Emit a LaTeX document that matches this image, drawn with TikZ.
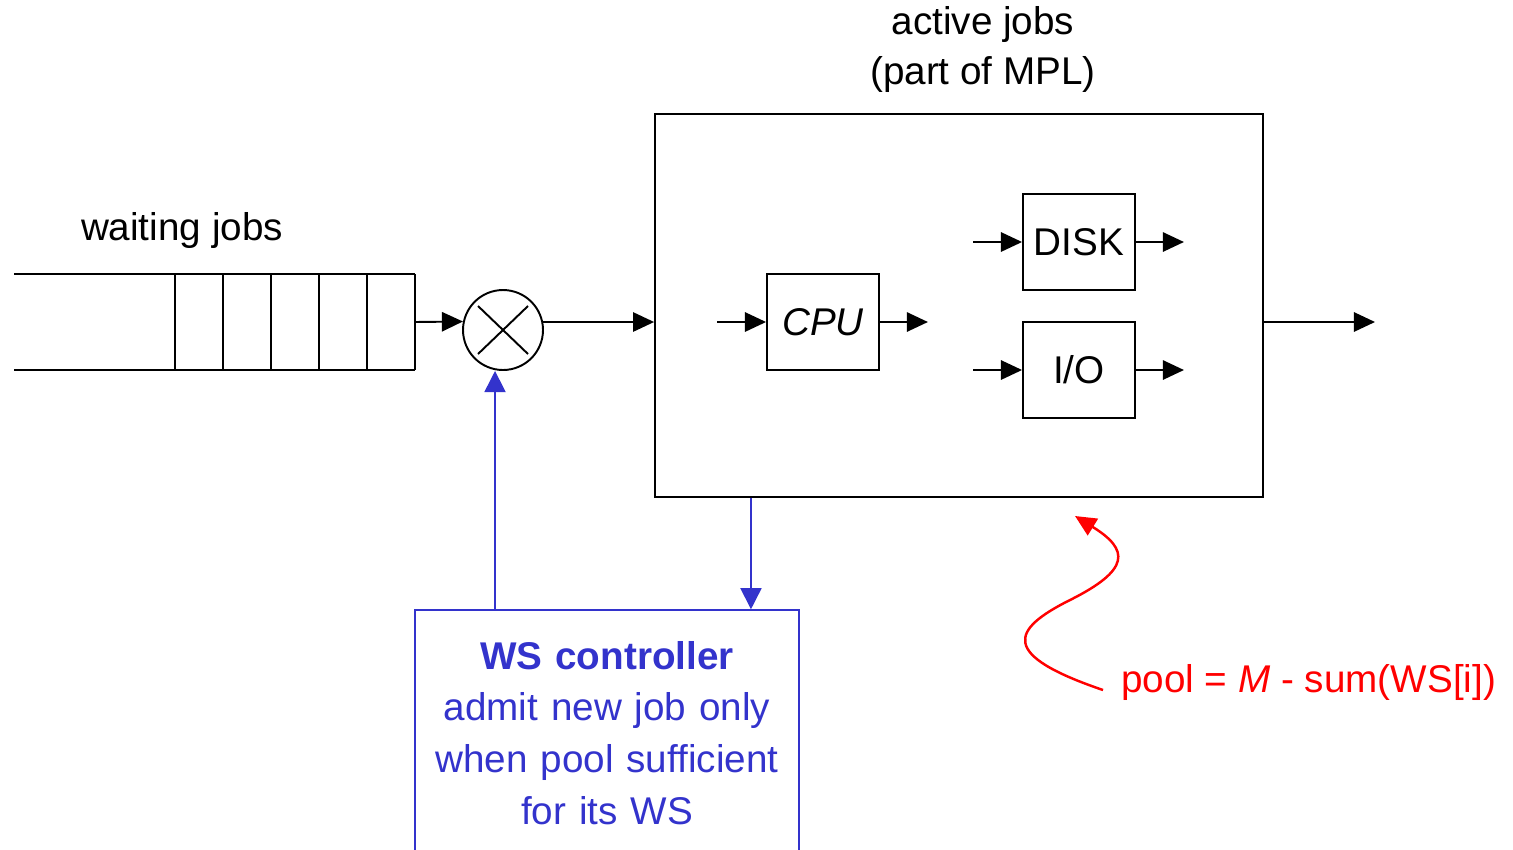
\documentclass[tikz,border=0pt]{standalone}
\usepackage{fontspec}
\setmainfont{Liberation Sans}
\usetikzlibrary{arrows.meta,positioning}
\definecolor{ctrlblue}{RGB}{51,51,204}

\tikzset{
  big/.style={font=\fontsize{22}{29.5}\selectfont},
  unit/.style={draw, line width=1.1pt, minimum width=2.24cm, minimum height=1.92cm, big},
  flow/.style={line width=1.1pt, -{Triangle[length=12pt,width=11pt]}},
  ctrlflow/.style={ctrlblue, line width=0.9pt, -{Triangle[length=12pt,width=12pt]}}
}

\begin{document}
\begin{tikzpicture}[x=0.02cm,y=-0.02cm]
\useasboundingbox (0,0) rectangle (1513,849);
\clip (0,0) rectangle (1513,849);

% queue of waiting jobs
\draw[line width=1.1pt] (14,274) -- (415,274);
\draw[line width=1.1pt] (14,370) -- (415,370);
\foreach \x in {175,223,...,415}
  \draw[line width=1.1pt] (\x,274) -- (\x,370);
\coordinate (qout) at (415,322);
\node[big] (waitlbl) at (182,230) {waiting jobs};

% admission switch
\node[draw, circle, line width=1.1pt, minimum size=1.6cm] (mux) at (503,330) {};
\draw[line width=1.1pt] ([shift={(-25,-24)}]mux.center) -- ([shift={(25,24)}]mux.center);
\draw[line width=1.1pt] ([shift={(-25,24)}]mux.center) -- ([shift={(25,-24)}]mux.center);

% active jobs
\node[draw, line width=1.1pt, minimum width=12.16cm, minimum height=7.66cm] (active) at (959,305.5) {};
\node[big] (actlbl) at (983,25) {active jobs};
\node[big] (mpllbl) at (983,75) {(part of MPL)};
\node[unit] (cpu) at (823,322) {\textit{CPU}};
\node[unit] (disk) at (1079,242) {DISK};
\node[unit] (io) at (1079,370) {I/O};
\coordinate (out) at (1375,322);

\draw[flow] (qout) -- (mux.168);
\draw[flow] (mux.12 |- cpu) -- (active.west |- cpu);
\draw[flow] ([xshift=-0.98cm]cpu.west) -- (cpu.west);
\draw[flow] (cpu.east) -- ([xshift=0.96cm]cpu.east);
\draw[flow] ([xshift=-0.98cm]disk.west) -- (disk.west);
\draw[flow] (disk.east) -- ([xshift=0.96cm]disk.east);
\draw[flow] ([xshift=-0.98cm]io.west) -- (io.west);
\draw[flow] (io.east) -- ([xshift=0.96cm]io.east);
\draw[flow] (active.east |- cpu) -- (out);

% controller
\node[draw=ctrlblue, line width=0.9pt, minimum width=7.68cm, minimum height=4.92cm,
      text=ctrlblue, text width=7.4cm, align=center, big] (ctrl) at (607,733)
  {\textbf{WS controller}\\admit new job only\\when pool sufficient\\for its WS};
\draw[ctrlflow] ([xshift=-2.24cm]ctrl.north) coordinate (up) -- (up |- mux.south);
\draw[ctrlflow] ([xshift=2.88cm]ctrl.north |- active.south) -- ([xshift=2.88cm]ctrl.north);

% memory pool
\node[big, text=red, anchor=west] (pool) at (1115,682) {pool = \textit{M} - sum(WS[i])};
\coordinate (pooltip) at (1075,516);
\draw[red, line width=1.4pt, -{Triangle[length=12pt,width=11pt]}]
  (1103,690) .. controls (1000,655) and (1010,630) .. (1070,600)
  .. controls (1130,570) and (1130,550) .. (pooltip);
\end{tikzpicture}
\end{document}
